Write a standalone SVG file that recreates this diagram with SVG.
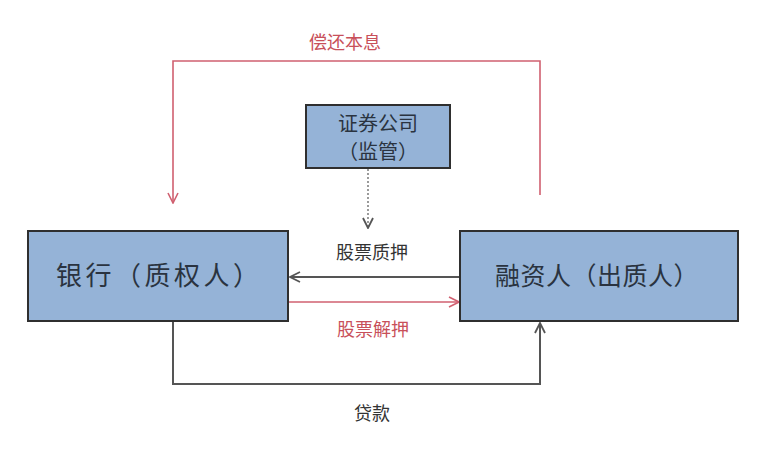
<svg xmlns="http://www.w3.org/2000/svg" width="769" height="468" viewBox="0 0 769 468">
<style>
.box{fill:#95b3d7;stroke:#2f2f2f;stroke-width:2}
.t{font-family:"Noto Sans CJK SC","Noto Sans",sans-serif;fill:#2a3340}
.lbl{font-family:"Noto Sans CJK SC","Noto Sans",sans-serif;fill:#333;text-anchor:middle;font-size:18px}
.red{fill:#c8505a}
.ln{fill:none;stroke:#555;stroke-width:2}
.rl{fill:none;stroke:#d06070;stroke-width:1.6}
</style>
<defs>
<marker id="ah" viewBox="0 0 12 12" refX="11" refY="6" markerWidth="12" markerHeight="12" markerUnits="userSpaceOnUse" orient="auto">
<path d="M1,1 L11,6 L1,11" fill="none" stroke="#555" stroke-width="1.8"/>
</marker>
<marker id="ahr" viewBox="0 0 12 12" refX="11" refY="6" markerWidth="12" markerHeight="12" markerUnits="userSpaceOnUse" orient="auto">
<path d="M1,1 L11,6 L1,11" fill="none" stroke="#d06070" stroke-width="1.6"/>
</marker>
</defs>
<rect width="769" height="468" fill="#ffffff"/>
<g id="connectors">
<path class="rl" d="M540,195 V61 H173 V203" marker-end="url(#ahr)"/>
<path d="M368,169 V228" fill="none" stroke="#666" stroke-width="1.3" stroke-dasharray="2,2" marker-end="url(#ah)"/>
<path class="ln" d="M459,277 H290" marker-end="url(#ah)"/>
<path class="rl" d="M289,302 H459" marker-end="url(#ahr)"/>
<path class="ln" d="M173,322 V384 H540 V323" marker-end="url(#ah)"/>
<text class="lbl red" x="345" y="49">偿还本息</text>
<text class="lbl" x="372" y="259">股票质押</text>
<text class="lbl red" x="373" y="336">股票解押</text>
<text class="lbl" x="372" y="420">贷款</text>
</g>
<g id="securities">
<rect class="box" x="306" y="105" width="144" height="63"/>
<text class="t" x="378" y="131" font-size="20" text-anchor="middle">证券公司</text>
<text class="t" x="378" y="159" font-size="20" text-anchor="middle">（监管）</text>
</g>
<g id="bank">
<rect class="box" x="28" y="231" width="260" height="90"/>
<text class="t" x="56" y="285" font-size="26" letter-spacing="3.5">银行（质权人）</text>
</g>
<g id="borrower">
<rect class="box" x="460" y="231" width="278" height="90"/>
<text class="t" x="495" y="285" font-size="25" letter-spacing="0.5">融资人（出质人）</text>
</g>
</svg>
